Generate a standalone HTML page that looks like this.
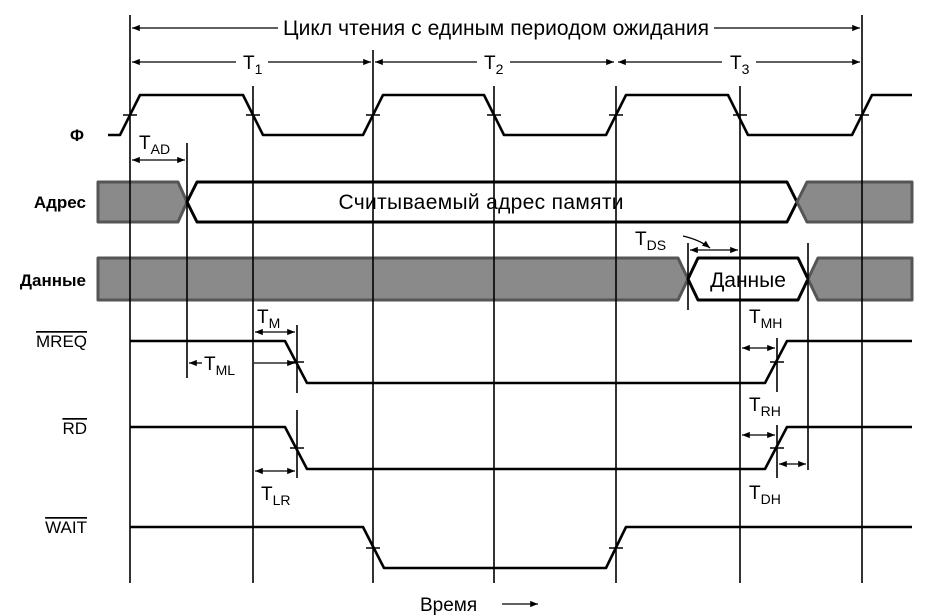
<!DOCTYPE html>
<html><head><meta charset="utf-8"><style>
html,body{margin:0;padding:0;background:#fff;}
svg{display:block;}
text{font-family:"Liberation Sans",sans-serif;fill:#000;}
</style></head><body>
<svg width="940" height="615" viewBox="0 0 940 615" xmlns="http://www.w3.org/2000/svg">
<defs>
<marker id="a" viewBox="0 0 10 10" refX="10" refY="5" markerWidth="8" markerHeight="6" orient="auto-start-reverse"><path d="M0,1 L10,5 L0,9 z" fill="#000"/></marker>
</defs>
<g stroke="#000" stroke-width="3" stroke-linejoin="round">
<path d="M98,182 H178 L187,202 L178,222 H98 Z" fill="#8a8a8a" stroke="#555"/>
<path d="M197,182 H787 L797,202 L787,222 H197 L187,202 Z" fill="#fff"/>
<path d="M807,182 H912 V222 H807 L797,202 Z" fill="#8a8a8a" stroke="#555"/>
<path d="M98,258 H678 L688,279 L678,300 H98 Z" fill="#8a8a8a" stroke="#555"/>
<path d="M698,258 H798 L808,279 L798,300 H698 L688,279 Z" fill="#fff"/>
<path d="M818,258 H912 V300 H818 L808,279 Z" fill="#8a8a8a" stroke="#555"/>
</g>
<g stroke="#000" stroke-width="1.6">
<line x1="130" y1="15" x2="130" y2="583"/>
<line x1="253" y1="86" x2="253" y2="583"/>
<line x1="373" y1="50" x2="373" y2="583"/>
<line x1="494" y1="86" x2="494" y2="583"/>
<line x1="616" y1="86" x2="616" y2="583"/>
<line x1="740" y1="86" x2="740" y2="583"/>
<line x1="862" y1="15" x2="862" y2="583"/>
<line x1="187" y1="143" x2="187" y2="378"/>
<line x1="297" y1="325" x2="297" y2="393"/>
<line x1="297" y1="410" x2="297" y2="478"/>
<line x1="688" y1="243" x2="688" y2="310"/>
<line x1="808" y1="243" x2="808" y2="300"/>
<line x1="777" y1="338" x2="777" y2="392"/>
<line x1="777" y1="425" x2="777" y2="478"/>
<line x1="808" y1="300" x2="808" y2="470"/>
</g>
<g stroke="#000" stroke-width="2.6" fill="none" stroke-linejoin="round">
<path d="M108,135 H120 L140,95 H243 L263,135 H363 L383,95 H484 L504,135 H606 L626,95 H728 L748,135 H852 L872,95 H912"/>
<path d="M130,341 H285 L307,383 H765 L787,341 H912"/>
<path d="M130,427 H285 L307,469 H765 L787,427 H912"/>
<path d="M130,527 H363 L384,568 H606 L626,527 H912"/>
</g>
<g stroke="#000" stroke-width="1.6">
<path d="M123,115h14 M246,115h14 M366,115h14 M487,115h14 M609,115h14 M733,115h14 M855,115h14"/>
<path d="M290,362h14 M770,362h14 M290,448h14 M770,448h14 M366,548h14 M609,548h14"/>
</g>
<g stroke="#000" stroke-width="1.3" fill="none">
<line x1="132" y1="28" x2="278" y2="28" marker-start="url(#a)"/>
<line x1="714" y1="28" x2="860" y2="28" marker-end="url(#a)"/>
<line x1="132" y1="62" x2="236" y2="62" marker-start="url(#a)"/>
<line x1="268" y1="62" x2="371" y2="62" marker-end="url(#a)"/>
<line x1="375" y1="62" x2="477" y2="62" marker-start="url(#a)"/>
<line x1="510" y1="62" x2="614" y2="62" marker-end="url(#a)"/>
<line x1="618" y1="62" x2="722" y2="62" marker-start="url(#a)"/>
<line x1="756" y1="62" x2="860" y2="62" marker-end="url(#a)"/>
<line x1="132" y1="160" x2="185" y2="160" marker-start="url(#a)" marker-end="url(#a)"/>
<line x1="255" y1="332" x2="295" y2="332" marker-start="url(#a)" marker-end="url(#a)"/>
<line x1="189" y1="363" x2="202" y2="363" marker-start="url(#a)"/>
<line x1="254" y1="363" x2="295" y2="363" marker-end="url(#a)"/>
<line x1="255" y1="471" x2="295" y2="471" marker-start="url(#a)" marker-end="url(#a)"/>
<line x1="690" y1="250" x2="738" y2="250" marker-start="url(#a)" marker-end="url(#a)"/>
<path d="M683,236 Q700,240 710,248" marker-end="url(#a)"/>
<line x1="742" y1="348" x2="775" y2="348" marker-start="url(#a)" marker-end="url(#a)"/>
<line x1="742" y1="435" x2="775" y2="435" marker-start="url(#a)" marker-end="url(#a)"/>
<line x1="779" y1="464" x2="806" y2="464" marker-start="url(#a)" marker-end="url(#a)"/>
<line x1="502" y1="604" x2="538" y2="604" marker-end="url(#a)"/>
</g>
<g font-size="19">
<text x="496" y="35" text-anchor="middle" font-size="21" textLength="426">Цикл чтения с единым периодом ожидания</text>
<text x="243" y="69">T<tspan font-size="14" dy="5">1</tspan></text>
<text x="484" y="69">T<tspan font-size="14" dy="5">2</tspan></text>
<text x="730" y="69">T<tspan font-size="14" dy="5">3</tspan></text>
<text x="481" y="209" text-anchor="middle" font-size="21" textLength="285">Считываемый адрес памяти</text>
<text x="748" y="287" text-anchor="middle" font-size="21">Данные</text>
<text x="139" y="149">T<tspan font-size="14" dy="5">AD</tspan></text>
<text x="257" y="323">T<tspan font-size="14" dy="5">M</tspan></text>
<text x="204" y="370">T<tspan font-size="14" dy="5">ML</tspan></text>
<text x="261" y="500">T<tspan font-size="14" dy="5">LR</tspan></text>
<text x="635" y="245">T<tspan font-size="14" dy="5">DS</tspan></text>
<text x="749" y="323">T<tspan font-size="14" dy="5">MH</tspan></text>
<text x="749" y="411">T<tspan font-size="14" dy="5">RH</tspan></text>
<text x="749" y="499">T<tspan font-size="14" dy="5">DH</tspan></text>
<text x="420" y="611">Время</text>
</g>
<g font-size="17" font-weight="bold" text-anchor="end">
<text x="84" y="141">Φ</text>
<text x="86" y="208">Адрес</text>
<text x="86" y="286">Данные</text>
<text x="87" y="347" font-weight="normal" text-decoration="overline">MREQ</text>
<text x="87" y="434" font-weight="normal" text-decoration="overline">RD</text>
<text x="87" y="533" font-weight="normal" text-decoration="overline">WAIT</text>
</g>
</svg>
</body></html>
